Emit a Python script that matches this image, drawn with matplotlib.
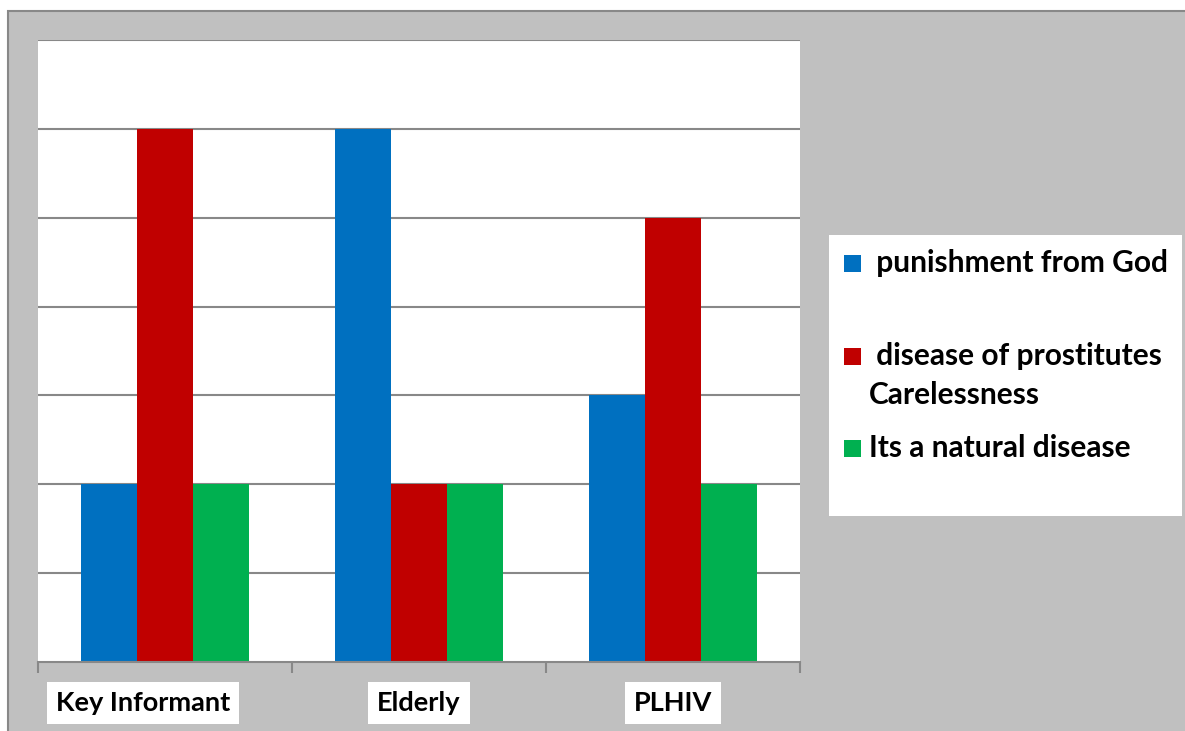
#!/usr/bin/env python3
import matplotlib
matplotlib.use("Agg")
import matplotlib.pyplot as plt
import matplotlib.transforms as mtransforms
from matplotlib.patches import Rectangle
import numpy as np

W, H = 1185, 731

categories = ["Key Informant", "Elderly", "PLHIV"]
series = [
    " punishment from God",
    " disease of prostitutes\nCarelessness",
    "Its a natural disease",
]
values = [
    [2, 6, 3],  # punishment from God
    [6, 2, 5],  # disease of prostitutes / Carelessness
    [2, 2, 2],  # natural disease
]
colors = ["#0070C0", "#C00000", "#00B050"]

plt.rcParams["font.family"] = ["Lato", "DejaVu Sans"]
plt.rcParams["font.weight"] = "bold"
FS_TICK = 19.5
FS_LEG = 21.5


def px(x, y):
    # pixel (from top-left) -> figure fraction
    return x / W, 1 - y / H


fig = plt.figure(figsize=(W / 100, H / 100), dpi=100, facecolor="white")

# grey chart frame
fig.patches.append(Rectangle(px(8, 735), (W + 10) / W, (735 - 11) / H,
                             transform=fig.transFigure, facecolor="#c0c0c0",
                             edgecolor="#888888", lw=1.5, zorder=0))

x0, y0 = px(38, 662)
x1, y1 = px(800, 40)
ax = fig.add_axes([x0, y0, x1 - x0, y1 - y0])
ax.set_zorder(5)
ax.set_facecolor("white")

x = np.arange(len(categories))
bw = 0.22
for i, (vals, c) in enumerate(zip(values, colors)):
    ax.bar(x + (i - 1) * bw, vals, width=bw, color=c, zorder=3)

ax.set_xlim(-0.5, 2.5)
ax.set_ylim(0, 7)
ax.set_yticks(range(1, 8))
ax.yaxis.grid(True, color="#888888", lw=1.5, zorder=1)
ax.tick_params(axis="y", length=0, labelleft=False)
for s in ["left", "right", "top"]:
    ax.spines[s].set_visible(False)
ax.spines["bottom"].set_color("#888888")
ax.spines["bottom"].set_linewidth(1.5)
ax.spines["bottom"].set_zorder(4)

ax.set_xticks(x)
ax.set_xticklabels(categories, fontsize=FS_TICK, fontweight="bold")
ax.set_xticks([-0.5, 0.5, 1.5, 2.5], minor=True)
ax.tick_params(axis="x", which="major", length=0, pad=21)
ax.tick_params(axis="x", which="minor", length=8, width=1.5, color="#888888")
for lab in ax.get_xticklabels():
    lab.set_bbox(dict(boxstyle="square,pad=0.33", facecolor="white", edgecolor="none"))
first = ax.get_xticklabels()[0]
first.set_transform(first.get_transform() +
                    mtransforms.ScaledTranslation(-22 / 100, 0, fig.dpi_scale_trans))

# legend
lx, ly = px(829, 516)
fig.patches.append(Rectangle((lx, ly), (1182 - 829) / W, (516 - 235) / H,
                             transform=fig.transFigure, facecolor="white",
                             edgecolor="none", zorder=1))
rows = [263, 356, 448]
for yc, lab, c in zip(rows, series, colors):
    sx, sy = px(844, yc + 9)
    fig.patches.append(Rectangle((sx, sy), 17 / W, 17 / H, transform=fig.transFigure,
                                 facecolor=c, edgecolor="none", zorder=2))
    for k, line in enumerate(lab.split("\n")):
        tx, ty = px(869, yc + 39 * k)
        fig.text(tx, ty, line, fontsize=FS_LEG, fontweight="bold", va="center",
                 ha="left", zorder=3)

fig.savefig("out.png", dpi=100, facecolor=fig.get_facecolor())
